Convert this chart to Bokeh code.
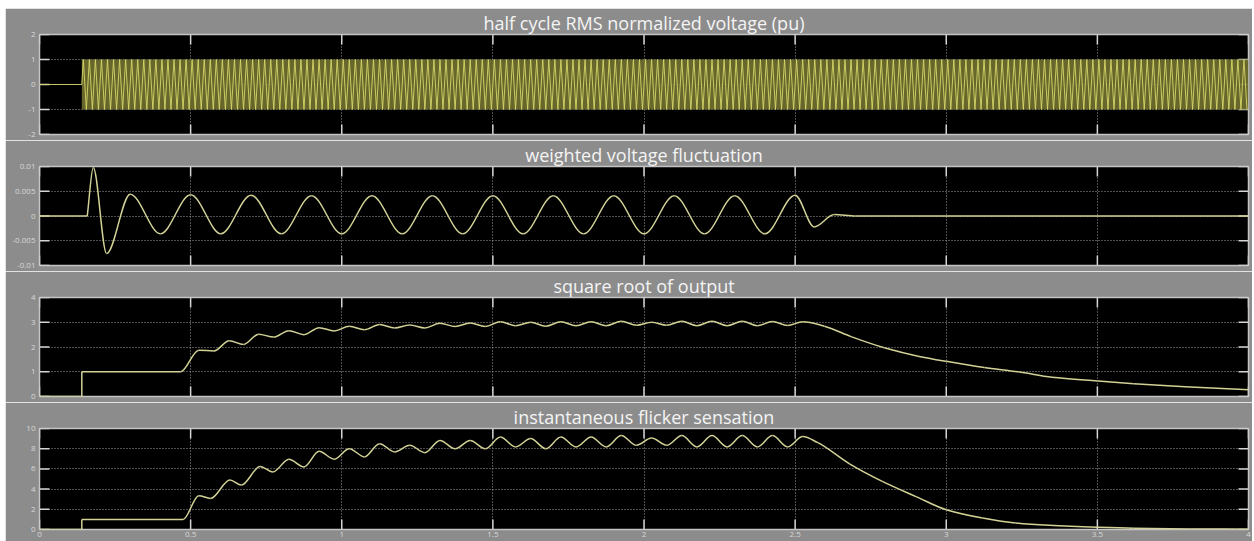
import numpy as np
from bokeh.plotting import figure
from bokeh.models import ColumnDataSource, FixedTicker, Range1d
from bokeh.layouts import column
from bokeh.embed import file_html
from bokeh.resources import INLINE

# ---------------- data ----------------
x_ticks = [0, 0.5, 1, 1.5, 2, 2.5, 3, 3.5, 4]
x_tick_labels = ["0", "0.5", "1", "1.5", "2", "2.5", "3", "3.5", "4"]

titles = ["half cycle RMS normalized voltage (pu)",
          "weighted voltage fluctuation",
          "square root of output",
          "instantaneous flicker sensation"]

# 1) half cycle RMS normalized voltage: 0 until switch-on, then a 50 Hz trace of +/-1 pu
v_ticks = [-2, -1, 0, 1, 2]
v_tick_labels = ["-2", "-1", "0", "1", "2"]
v_on_time = 0.14
v_half_period = 0.01
v_amplitude = 1.0
v_end = 4.0

# 2) weighted voltage fluctuation (extrema of the trace)
wf_ticks = [-0.01, -0.005, 0, 0.005, 0.01]
wf_tick_labels = ["-0.01", "-0.005", "0", "0.005", "0.01"]
wf_lead_t = [0.0, 0.158]
wf_lead_y = [0.0, 0.0]
wf_t = [0.158, 0.178, 0.222, 0.30,
        0.40, 0.50, 0.60, 0.70, 0.80, 0.90, 1.00, 1.10, 1.20, 1.30, 1.40,
        1.50, 1.60, 1.70, 1.80, 1.90, 2.00, 2.10, 2.20, 2.30, 2.40, 2.50,
        2.563, 2.63, 2.70, 4.00]
wf_y = [0.0, 0.0098, -0.0076, 0.0044,
        -0.0036, 0.0043, -0.0036, 0.0042, -0.0036, 0.0041, -0.0036, 0.0041,
        -0.0036, 0.0041, -0.0036, 0.0041, -0.0036, 0.0041, -0.0036, 0.0041,
        -0.0036, 0.0041, -0.0036, 0.0041, -0.0036, 0.0042,
        -0.0022, 0.0003, 0.0, 0.0]

# 3) square root of output
sq_ticks = [0, 1, 2, 3, 4]
sq_tick_labels = ["0", "1", "2", "3", "4"]
sq_lead_t = [0.0, 0.14]
sq_lead_y = [0.0, 0.0]
sq_step_t = 0.14
sq_step_y = [0.0, 1.0]
sq_t = [0.14, 0.467,
        0.527, 0.577, 0.628, 0.675, 0.725, 0.775,
        0.825, 0.875, 0.925, 0.975, 1.025, 1.075, 1.125, 1.175, 1.225, 1.275,
        1.325, 1.375, 1.425, 1.475, 1.525, 1.575, 1.625, 1.675, 1.725, 1.775,
        1.825, 1.875, 1.925, 1.975, 2.025, 2.075, 2.125, 2.175, 2.225, 2.275,
        2.325, 2.375, 2.425, 2.475, 2.525,
        2.597, 2.685, 2.795, 2.907, 3.0, 3.126, 3.238, 3.35, 3.5, 3.62, 3.79, 4.0]
sq_y = [1.0, 1.0,
        1.87, 1.84, 2.25, 2.1, 2.52, 2.4,
        2.66, 2.5, 2.78, 2.65, 2.84, 2.7, 2.91, 2.77, 2.89, 2.77,
        2.96, 2.83, 2.97, 2.83, 3.02, 2.86, 3.0, 2.84, 3.02, 2.86,
        3.02, 2.86, 3.04, 2.88, 3.0, 2.88, 3.04, 2.86, 3.04, 2.86,
        3.04, 2.86, 3.03, 2.87, 3.02,
        2.84, 2.42, 1.97, 1.63, 1.42, 1.17, 1.0, 0.78, 0.63, 0.52, 0.39, 0.27]

# 4) instantaneous flicker sensation
fs_ticks = [0, 2, 4, 6, 8, 10]
fs_tick_labels = ["0", "2", "4", "6", "8", "10"]
fs_lead_t = [0.0, 0.14]
fs_lead_y = [0.0, 0.0]
fs_step_t = 0.14
fs_step_y = [0.0, 1.0]
fs_t = [0.14, 0.475,
        0.527, 0.566, 0.63, 0.668, 0.73, 0.772,
        0.825, 0.875, 0.925, 0.975, 1.025, 1.075, 1.125, 1.175, 1.225, 1.275,
        1.325, 1.375, 1.425, 1.475, 1.525, 1.575, 1.625, 1.675, 1.725, 1.775,
        1.825, 1.875, 1.925, 1.975, 2.025, 2.075, 2.125, 2.175, 2.225, 2.275,
        2.325, 2.375, 2.425, 2.475, 2.525,
        2.575, 2.68, 2.79, 2.90, 3.0, 3.12, 3.23, 3.34, 3.5, 3.62, 3.8, 4.0]
fs_y = [1.0, 1.0,
        3.35, 3.07, 4.9, 4.4, 6.25, 5.7,
        6.95, 6.2, 7.74, 6.96, 8.0, 7.19, 8.5, 7.68, 8.33, 7.61,
        8.82, 8.0, 8.82, 8.0, 9.15, 8.17, 9.0, 8.0, 9.15, 8.17,
        9.15, 8.17, 9.3, 8.33, 9.05, 8.33, 9.3, 8.17, 9.3, 8.17,
        9.3, 8.17, 9.3, 8.17, 9.2,
        8.6, 6.5, 4.74, 3.26, 1.96, 1.14, 0.65, 0.42, 0.23, 0.13, 0.06, 0.03]

# ---------------- styling ----------------
GRAY = "#8c8c8c"
FRAME_LINE = "#c4c4c4"
GRID = "#9c9c9c"
TICK = "#d4d4d4"
TRACE = "#d2d296"
BAND_LINE = "#d6d66a"
BAND_FILL = "#727230"
FONT = "Open Sans"
W = 1247
X_RANGE = (0, 4)


def bezier_cols(xs, ys):
    """Monotone cubic (PCHIP) control points so Bokeh's bezier glyph passes through the points."""
    xs = np.asarray(xs, float)
    ys = np.asarray(ys, float)
    h = np.diff(xs)
    d = np.diff(ys) / h
    n = len(xs)
    m = np.zeros(n)
    m[0] = d[0]
    m[-1] = d[-1]
    for i in range(1, n - 1):
        if d[i - 1] * d[i] <= 0:
            m[i] = 0.0
        else:
            w1 = 2 * h[i] + h[i - 1]
            w2 = h[i] + 2 * h[i - 1]
            m[i] = (w1 + w2) / (w1 / d[i - 1] + w2 / d[i])
    return dict(x0=xs[:-1], y0=ys[:-1], x1=xs[1:], y1=ys[1:],
                cx0=xs[:-1] + h / 3, cy0=ys[:-1] + m[:-1] * h / 3,
                cx1=xs[1:] - h / 3, cy1=ys[1:] - m[1:] * h / 3)


def make_fig(title, yrange, ticks, labels, height, bottom, show_x):
    p = figure(width=W, height=height, x_range=Range1d(*X_RANGE), y_range=Range1d(*yrange),
               output_backend="svg", toolbar_location=None,
               min_border_left=34, min_border_right=4,
               min_border_top=25, min_border_bottom=bottom,
               background_fill_color="black", border_fill_color=GRAY,
               outline_line_color=FRAME_LINE, outline_line_width=1.5)
    p.title.text = title
    p.title.align = "center"
    p.title.text_color = "#f4f4f4"
    p.title.text_font = FONT
    p.title.text_font_size = "18px"
    p.title.text_font_style = "normal"
    p.title.standoff = 0

    xt = FixedTicker(ticks=x_ticks)
    yt = FixedTicker(ticks=ticks)
    bx = p.xaxis[0]
    ly = p.yaxis[0]
    bx.ticker = xt
    ly.ticker = yt
    p.xgrid[0].ticker = xt
    p.ygrid[0].ticker = yt
    for ax in (bx, ly):
        ax.major_tick_in = 0
        ax.major_tick_out = 0
        ax.minor_tick_in = 0
        ax.minor_tick_out = 0
        ax.axis_line_color = None
        ax.major_label_text_color = "#d8d8d8"
        ax.major_label_text_font = FONT
        ax.major_label_text_font_size = "8px"
        ax.major_label_standoff = 4
    ly.major_label_overrides = {t: s for t, s in zip(ticks, labels)}
    bx.major_label_overrides = {t: s for t, s in zip(x_ticks, x_tick_labels)}
    bx.major_label_standoff = 2
    bx.visible = show_x
    for g in (p.xgrid[0], p.ygrid[0]):
        g.grid_line_color = GRID
        g.grid_line_dash = "1 2"
        g.grid_line_width = 1

    # inward tick marks on all four sides of the scope frame
    tick_kw = dict(length=10, length_units="screen", line_color=TICK, line_width=1.5)
    p.ray(x=x_ticks, y=[yrange[0]] * len(x_ticks), angle=np.pi / 2, **tick_kw)
    p.ray(x=x_ticks, y=[yrange[1]] * len(x_ticks), angle=-np.pi / 2, **tick_kw)
    p.ray(x=[X_RANGE[0]] * len(ticks), y=ticks, angle=0.0, **tick_kw)
    p.ray(x=[X_RANGE[1]] * len(ticks), y=ticks, angle=np.pi, **tick_kw)
    return p


def add_curve(p, xs, ys):
    p.bezier(x0="x0", y0="y0", x1="x1", y1="y1", cx0="cx0", cy0="cy0", cx1="cx1", cy1="cy1",
             source=ColumnDataSource(bezier_cols(xs, ys)), line_color=TRACE, line_width=1.5)


# ---- plot 1 ----
p1 = make_fig(titles[0], (-2, 2), v_ticks, v_tick_labels, 132, 6, False)
p1.varea(x=[v_on_time, v_end], y1=[-v_amplitude, -v_amplitude], y2=[v_amplitude, v_amplitude],
         fill_color=BAND_FILL, fill_alpha=0.9)
n_half = int(round((v_end - v_on_time) / v_half_period))
osc_t = [v_on_time + v_half_period * (k + 0.5) for k in range(n_half)]
osc_y = [v_amplitude if k % 2 == 0 else -v_amplitude for k in range(n_half)]
p1.line([0.0, v_on_time] + osc_t, [0.0, 0.0] + osc_y, line_color=BAND_LINE, line_width=1, line_alpha=0.9)

# ---- plot 2 ----
p2 = make_fig(titles[1], (-0.01, 0.01), wf_ticks, wf_tick_labels, 131, 6, False)
p2.line(wf_lead_t, wf_lead_y, line_color=TRACE, line_width=1.5)
add_curve(p2, wf_t, wf_y)

# ---- plot 3 ----
p3 = make_fig(titles[2], (0, 4), sq_ticks, sq_tick_labels, 131, 6, False)
p3.line(sq_lead_t, sq_lead_y, line_color=TRACE, line_width=1.5)
p3.line([sq_step_t, sq_step_t], sq_step_y, line_color=TRACE, line_width=1.5)
add_curve(p3, sq_t, sq_y)

# ---- plot 4 ----
p4 = make_fig(titles[3], (0, 10), fs_ticks, fs_tick_labels, 139, 12, True)
p4.line(fs_lead_t, fs_lead_y, line_color=TRACE, line_width=1.5)
p4.line([fs_step_t, fs_step_t], fs_step_y, line_color=TRACE, line_width=1.5)
add_curve(p4, fs_t, fs_y)

layout = column(p1, p2, p3, p4, spacing=0, margin=(8, 2, 0, 5))
open("out.html", "w").write(file_html(layout, INLINE))
